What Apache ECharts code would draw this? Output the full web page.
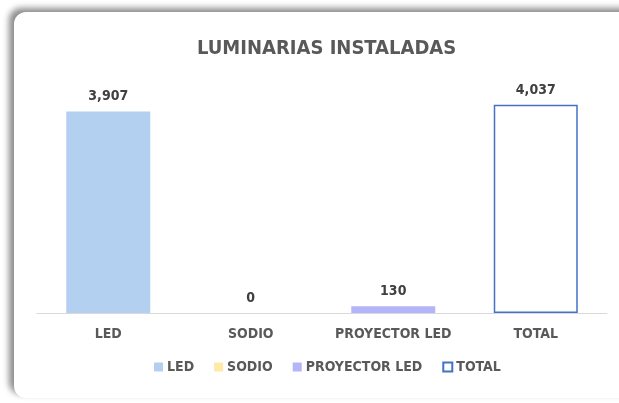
<!DOCTYPE html>
<html>
<head>
<meta charset="utf-8">
<script src="https://cdn.jsdelivr.net/npm/echarts@6/dist/echarts.min.js"></script>
<style>
  html, body { margin: 0; padding: 0; background: #ffffff; }
  #card {
    position: absolute; left: 14px; top: 12px; width: 640px; height: 386px;
    background: #ffffff; border-radius: 12px;
    box-shadow: -5px -4px 6px rgba(0, 0, 0, 0.45);
  }
  #main { position: absolute; left: 0; top: 0; width: 619px; height: 403px; }
</style>
</head>
<body>
<div id="card"></div>
<div id="main"></div>
<script>
// data
const categories = ['LED', 'SODIO', 'PROYECTOR LED', 'TOTAL']
const ledValues = [3907, '-', '-', '-']
const sodioValues = ['-', 0, '-', '-']
const proyectorValues = ['-', '-', 130, '-']
const totalValues = ['-', '-', '-', 4037]

const fontName = '"Liberation Sans Narrow", "DejaVu Sans Condensed", sans-serif'

let labelStyle = {
  show: true,
  position: 'top',
  distance: 8,
  color: '#404040',
  fontFamily: fontName,
  fontWeight: 'bold',
  fontSize: 14,
  formatter: (p) => p.value.toLocaleString('en-US'),
}

let mychart = echarts.init(document.getElementById('main'))
mychart.setOption({
  animation: false,
  title: {
    text: 'LUMINARIAS INSTALADAS',
    left: 192,
    top: 34,
    textStyle: {
      color: '#595959',
      fontFamily: fontName,
      fontWeight: 'bold',
      fontSize: 20,
    },
  },
  legend: {
    bottom: 24,
    left: 149,
    itemWidth: 9,
    itemHeight: 9,
    itemGap: 20,
    textStyle: {
      color: '#595959',
      fontFamily: fontName,
      fontWeight: 'bold',
      fontSize: 14,
      padding: [0, 0, 0, -1],
    },
    data: [
      { name: 'LED', icon: 'rect' },
      { name: 'SODIO', icon: 'rect' },
      { name: 'PROYECTOR LED', icon: 'rect' },
      { name: 'TOTAL', icon: 'rect' },
    ],
  },
  grid: {
    top: 81,
    left: 37,
    right: 12,
    bottom: 90,
  },
  xAxis: {
    type: 'category',
    data: categories,
    axisLine: { lineStyle: { color: '#d9d9d9', width: 1 } },
    axisTick: { show: false },
    axisLabel: {
      interval: 0,
      color: '#595959',
      fontFamily: fontName,
      fontWeight: 'bold',
      fontSize: 14,
      margin: 14,
    },
  },
  yAxis: {
    type: 'value',
    min: 0,
    max: 4500,
    show: false,
  },
  series: [
    {
      name: 'LED',
      type: 'bar',
      barWidth: 84,
      barGap: '-100%',
      itemStyle: { color: '#b4d0f0' },
      label: labelStyle,
      data: ledValues,
    },
    {
      name: 'SODIO',
      type: 'bar',
      barWidth: 84,
      barGap: '-100%',
      itemStyle: { color: '#ffe9a6' },
      label: labelStyle,
      data: sodioValues,
    },
    {
      name: 'PROYECTOR LED',
      type: 'bar',
      barWidth: 84,
      barGap: '-100%',
      itemStyle: { color: '#b4b4f8' },
      label: labelStyle,
      data: proyectorValues,
    },
    {
      name: 'TOTAL',
      type: 'bar',
      barWidth: 84,
      barGap: '-100%',
      itemStyle: { color: '#ffffff', borderColor: '#4472c4', borderWidth: 1.5 },
      label: labelStyle,
      data: totalValues,
    },
  ],
})
</script>
</body>
</html>
